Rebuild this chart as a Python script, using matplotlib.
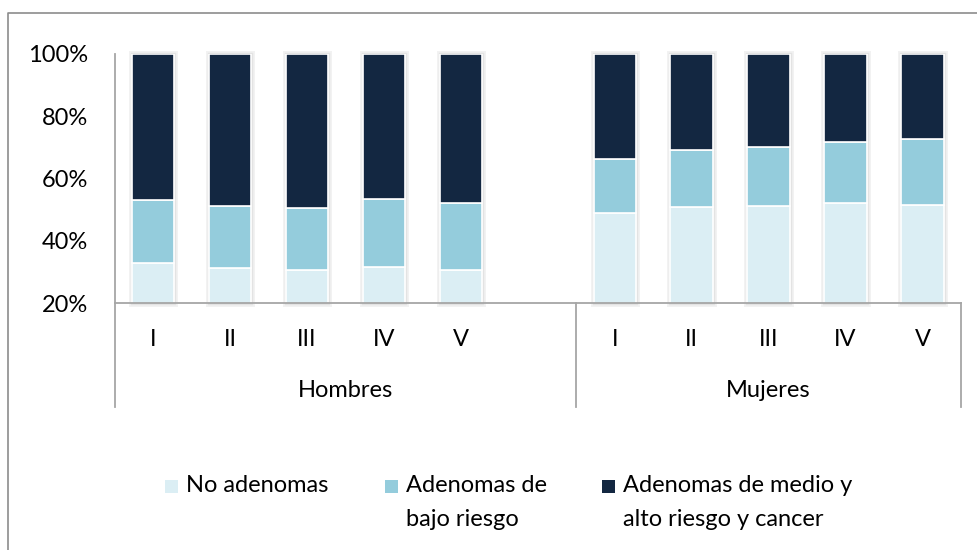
import matplotlib
matplotlib.use("Agg")
import matplotlib.pyplot as plt
import matplotlib.patches as mpatches
import matplotlib.lines as mlines
import matplotlib.transforms as mtransforms
import numpy as np

plt.rcParams['font.family'] = ['Lato', 'DejaVu Sans']

# data (percent)
grupos = ['Hombres', 'Mujeres']
quintiles = ['I', 'II', 'III', 'IV', 'V']
series = ['No adenomas', 'Adenomas de\nbajo riesgo', 'Adenomas de medio y\nalto riesgo y cancer']

no_aden_h = [32.8, 31.2, 30.7, 31.7, 30.6]
bajo_h = [20.3, 20.1, 20.0, 21.7, 21.6]
medio_h = [46.9, 48.7, 49.3, 46.6, 47.8]

no_aden_m = [49.1, 51.0, 51.2, 52.3, 51.6]
bajo_m = [17.2, 18.2, 19.1, 19.6, 21.1]
medio_m = [33.7, 30.8, 29.7, 28.1, 27.3]

yticks = [20, 40, 60, 80, 100]

colores = ['#DBEEF4', '#94CCDC', '#132741']
gris = '#A6A6A6'
fs = 17

fig = plt.figure(figsize=(9.77, 5.5), dpi=100)
W, H = 977.0, 550.0
ax = fig.add_axes([114.5 / W, 1 - 303.3 / H, 846.5 / W, 249.3 / H])

# positions: Hombres 0..4, empty slot 5, Mujeres 6..10
pos_h = np.arange(len(quintiles))
pos_m = np.arange(len(quintiles)) + len(quintiles) + 1
ancho = 0.55
ymin = yticks[0]

for pos, vals in [(pos_h, [no_aden_h, bajo_h, medio_h]), (pos_m, [no_aden_m, bajo_m, medio_m])]:
    tot = np.sum(vals, axis=0)
    # soft shadow behind bars
    ax.bar(pos, tot - ymin, ancho, bottom=ymin, color='none', edgecolor='#F2F2F2',
           linewidth=5, clip_on=False, zorder=1)
    ax.bar(pos, tot - ymin, ancho, bottom=ymin, color='none', edgecolor='#E3E3E3',
           linewidth=2.5, clip_on=False, zorder=1)
    base = np.zeros(len(pos))
    for v, c in zip(vals, colores):
        ax.bar(pos, v, ancho, bottom=base, color=c, edgecolor='white', linewidth=1.2, zorder=2)
        base = base + np.array(v)

ax.set_ylim(ymin, yticks[-1])
ax.set_xlim(-0.5, pos_m[-1] + 0.5)
ax.set_yticks(yticks)
ax.set_yticklabels([str(t) + '%' for t in yticks], fontsize=fs)
ax.tick_params(axis='y', length=0, pad=19)
ax.set_xticks([])

for s in ['top', 'right']:
    ax.spines[s].set_visible(False)
for s in ['left', 'bottom']:
    ax.spines[s].set_color(gris)
    ax.spines[s].set_linewidth(1.3)

# category labels
trans = mtransforms.blended_transform_factory(ax.transData, ax.transAxes)
for p, q in zip(list(pos_h) + list(pos_m), quintiles + quintiles):
    ax.text(p, -0.147, q, transform=trans, ha='center', va='center', fontsize=fs)

# group labels and separators
cortes = [-0.5, pos_h[-1] + 1.5, pos_m[-1] + 0.5]
for i, g in enumerate(grupos):
    ax.text((cortes[i] + cortes[i + 1]) / 2, -0.348, g, transform=trans,
            ha='center', va='center', fontsize=fs)
for c in cortes:
    ax.plot([c, c], [0, -0.417], transform=trans, color=gris, lw=1.3, clip_on=False)

# outer frame (only left and top visible)
fig.add_artist(mlines.Line2D([8 / W, 8 / W, 1.0], [0.0, 1 - 13 / H, 1 - 13 / H],
                             color='#8C8C8C', lw=1.2))

# legend
ley_x = [165, 385, 602]
ley_y = 486
for x, lab, c in zip(ley_x, series, colores):
    fig.add_artist(mpatches.Rectangle((x / W, 1 - (ley_y + 6.5) / H), 13 / W, 13 / H,
                                      facecolor=c, edgecolor='none'))
    fig.text((x + 21) / W, 1 - (ley_y - 11) / H, lab, fontsize=fs, ha='left', va='top',
             linespacing=1.78)

fig.savefig('out.png', dpi=100)
